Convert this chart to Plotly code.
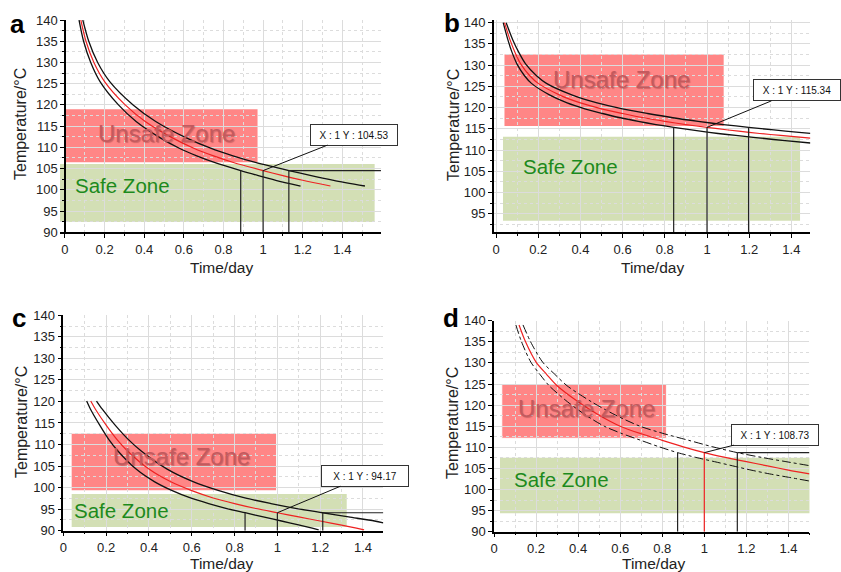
import plotly.graph_objects as go

FONT = "Liberation Sans, Arial, sans-serif"

# ---------------- data ----------------
# Panel a
a_t_mid = [0.08, 0.106, 0.146, 0.2, 0.304, 0.405, 0.54, 0.65, 0.75, 0.85, 1.0, 1.1, 1.2, 1.34]
a_T_mid = [140, 135, 130, 125.5, 120, 116.1, 112.3, 109.8, 108.0, 106.45, 104.53, 103.35, 102.25, 100.9]
a_t_lo = [0.071, 0.094, 0.13, 0.177, 0.27, 0.359, 0.479, 0.577, 0.665, 0.754, 0.887, 0.976, 1.064, 1.189]
a_T_lo = [140, 135, 130, 125.5, 120, 116.1, 112.3, 109.8, 108.0, 106.45, 104.53, 103.35, 102.25, 100.9]
a_t_hi = [0.09, 0.12, 0.165, 0.226, 0.344, 0.458, 0.61, 0.735, 0.848, 0.961, 1.13, 1.243, 1.356, 1.514]
a_T_hi = [140, 135, 130, 125.5, 120, 116.1, 112.3, 109.8, 108.0, 106.45, 104.53, 103.35, 102.25, 100.9]
a_cross_x = [0.887, 1.0, 1.13]
a_cross_y = 104.53
a_unsafe = [0.0, 0.972, 106.5, 119.0]
a_safe = [-0.025, 1.563, 92.4, 106.1]

# Panel b
b_t_mid = [0.04, 0.066, 0.09, 0.117, 0.16, 0.2, 0.3, 0.4, 0.5, 0.6, 0.7, 0.8, 0.9, 1.0, 1.1, 1.2, 1.3, 1.4, 1.49]
b_T_mid = [140, 136, 133, 130.3, 127.5, 125.7, 123.0, 121.1, 119.7, 118.6, 117.6, 116.75, 116.0, 115.34, 114.72, 114.15, 113.65, 113.2, 112.8]
b_t_lo = [0.034, 0.056, 0.076, 0.099, 0.135, 0.168, 0.253, 0.337, 0.421, 0.505, 0.589, 0.674, 0.758, 0.842, 0.926, 1.010, 1.095, 1.179, 1.255, 1.37, 1.49]
b_T_lo = [140, 136, 133, 130.3, 127.5, 125.7, 123.0, 121.1, 119.7, 118.6, 117.6, 116.75, 116.0, 115.34, 114.72, 114.15, 113.65, 113.2, 112.8, 112.2, 111.65]
b_t_hi = [0.048, 0.079, 0.108, 0.14, 0.192, 0.239, 0.359, 0.479, 0.599, 0.718, 0.838, 0.958, 1.077, 1.197, 1.317, 1.436, 1.49]
b_T_hi = [140, 136, 133, 130.3, 127.5, 125.7, 123.0, 121.1, 119.7, 118.6, 117.6, 116.75, 116.0, 115.34, 114.72, 114.15, 113.93]
b_cross_x = [0.842, 1.0, 1.197]
b_cross_y = 115.34
b_unsafe = [0.04, 1.079, 115.65, 132.5]
b_safe = [0.033, 1.441, 93.35, 113.1]

# Panel c
c_t_mid = [0.128, 0.15, 0.2, 0.25, 0.3, 0.4, 0.5, 0.6, 0.7, 0.8, 0.9, 1.0, 1.1, 1.2, 1.3, 1.405]
c_T_mid = [120.1, 118.2, 114.5, 111.2, 108.5, 104.3, 101.4, 99.3, 97.6, 96.3, 95.15, 94.17, 93.2, 92.25, 91.3, 90.2]
c_t_lo = [0.109, 0.127, 0.170, 0.212, 0.255, 0.340, 0.425, 0.509, 0.594, 0.679, 0.764, 0.849, 0.934, 1.019, 1.104, 1.193]
c_T_lo = [120.1, 118.2, 114.5, 111.2, 108.5, 104.3, 101.4, 99.3, 97.6, 96.3, 95.15, 94.17, 93.2, 92.25, 91.3, 90.2]
c_t_hi = [0.155, 0.182, 0.242, 0.303, 0.364, 0.485, 0.606, 0.727, 0.848, 0.970, 1.091, 1.212, 1.333, 1.454, 1.495]
c_T_hi = [120.1, 118.2, 114.5, 111.2, 108.5, 104.3, 101.4, 99.3, 97.6, 96.3, 95.15, 94.17, 93.2, 92.25, 91.8]
c_cross_x = [0.849, 1.0, 1.212]
c_cross_y = 94.17
c_unsafe = [0.039, 0.994, 99.4, 112.5]
c_safe = [0.039, 1.324, 90.85, 98.5]

# Panel d
d_t_mid = [0.119, 0.15, 0.2, 0.25, 0.3, 0.4, 0.5, 0.6, 0.7, 0.8, 0.9, 1.0, 1.1, 1.2, 1.3, 1.4, 1.5]
d_T_mid = [139, 135, 130.2, 127.3, 124.6, 120.8, 117.6, 115.0, 113.2, 111.65, 110.1, 108.73, 107.6, 106.6, 105.6, 104.6, 103.7]
d_t_lo = [0.104, 0.131, 0.175, 0.218, 0.262, 0.349, 0.437, 0.524, 0.611, 0.698, 0.786, 0.873, 0.960, 1.048, 1.135, 1.222, 1.31, 1.4, 1.5]
d_T_lo = [139, 135, 130.2, 127.3, 124.6, 120.8, 117.6, 115.0, 113.2, 111.65, 110.1, 108.73, 107.6, 106.6, 105.6, 104.6, 103.7, 102.9, 102.0]
d_t_hi = [0.138, 0.174, 0.231, 0.289, 0.347, 0.463, 0.579, 0.694, 0.810, 0.926, 1.041, 1.157, 1.273, 1.388, 1.5]
d_T_hi = [139, 135, 130.2, 127.3, 124.6, 120.8, 117.6, 115.0, 113.2, 111.65, 110.1, 108.73, 107.6, 106.6, 105.65]
d_cross_x = [0.873, 1.0, 1.157]
d_cross_y = 108.73
d_unsafe = [0.036, 0.821, 112.1, 125.0]
d_safe = [0.0285, 1.526, 94.35, 107.5]

labels = ["a", "b", "c", "d"]
unsafe_text = "Unsafe Zone"
safe_text = "Safe Zone"

# ---------------- layout helpers ----------------
panels = [
    dict(lab="a", xa="x", ya="y", t=(a_t_lo, a_T_lo, a_t_mid, a_T_mid, a_t_hi, a_T_hi),
         cx=a_cross_x, cy=a_cross_y, unsafe=a_unsafe, safe=a_safe, xr=[-0.027, 1.595], yr=[90, 140],
         xdom=[0.0709, 0.4530], ydom=[0.5939, 0.9650], ypos=0.0773, hline=True, dash="solid", midred=False,
         utxt=(0.51, 113.2), stxt=(0.29, 101.1), ax=91, ay=-36, uborder=0),
    dict(lab="b", xa="x2", ya="y2", t=(b_t_lo, b_T_lo, b_t_mid, b_T_mid, b_t_hi, b_T_hi),
         cx=b_cross_x, cy=b_cross_y, unsafe=b_unsafe, safe=b_safe, xr=[-0.01, 1.49], yr=[90.6, 140.6],
         xdom=[0.5873, 0.9636], ydom=[0.5938, 0.9648], ypos=None, hline=False, dash="solid", midred=False,
         utxt=(0.596, 126.6), stxt=(0.351, 106.1), ax=90, ay=-37, uborder=0),
    dict(lab="c", xa="x3", ya="y3", t=(c_t_lo, c_T_lo, c_t_mid, c_T_mid, c_t_hi, c_T_hi),
         cx=c_cross_x, cy=c_cross_y, unsafe=c_unsafe, safe=c_safe, xr=[0, 1.495], yr=[90, 140],
         xdom=[0.0753, 0.4558], ydom=[0.0722, 0.4488], ypos=None, hline=True, dash="solid", midred=False,
         utxt=(0.553, 107.2), stxt=(0.273, 94.6), ax=88, ay=-37, uborder=0),
    dict(lab="d", xa="x4", ya="y4", t=(d_t_lo, d_T_lo, d_t_mid, d_T_mid, d_t_hi, d_T_hi),
         cx=d_cross_x, cy=d_cross_y, unsafe=d_unsafe, safe=d_safe, xr=[0, 1.5], yr=[90, 140],
         xdom=[0.5874, 0.9625], ydom=[0.0705, 0.4393], ypos=None, hline=True, dash="dashdot", midred=True,
         utxt=(0.44, 119.2), stxt=(0.319, 102.4), ax=71, ay=-18, uborder=1.5),
]

fig = go.Figure()
shapes = []
annotations = []
layout_axes = {}

for i, p in enumerate(panels):
    xa, ya = p["xa"], p["ya"]
    t_lo, T_lo, t_mid, T_mid, t_hi, T_hi = p["t"]
    blk = dict(color="#111111", width=1.3 if p["dash"] == "solid" else 1.0, dash=p["dash"],
               shape="spline", smoothing=0.8)
    fig.add_trace(go.Scatter(x=t_lo, y=T_lo, mode="lines", line=blk, xaxis=xa, yaxis=ya, showlegend=False))
    fig.add_trace(go.Scatter(x=t_hi, y=T_hi, mode="lines", line=blk, xaxis=xa, yaxis=ya, showlegend=False))
    fig.add_trace(go.Scatter(x=t_mid, y=T_mid, mode="lines",
                             line=dict(color="#ee2222", width=1.2, shape="spline", smoothing=0.8),
                             xaxis=xa, yaxis=ya, showlegend=False))
    ybot = p["yr"][0]
    for k, xv in enumerate(p["cx"]):
        col = "#ee2222" if (p["midred"] and k == 1) else "#222222"
        fig.add_trace(go.Scatter(x=[xv, xv], y=[ybot, p["cy"]], mode="lines",
                                 line=dict(color=col, width=1.2), xaxis=xa, yaxis=ya, showlegend=False))
    if p["hline"]:
        fig.add_trace(go.Scatter(x=[p["cx"][2], p["xr"][1]], y=[p["cy"], p["cy"]], mode="lines",
                                 line=dict(color="#222222", width=1.2), xaxis=xa, yaxis=ya, showlegend=False))
    # zones
    u, s = p["unsafe"], p["safe"]
    shapes.append(dict(type="rect", xref=xa, yref=ya, x0=u[0], x1=u[1], y0=u[2], y1=u[3],
                       fillcolor="#ff8686",
                       line=dict(width=p["uborder"], color="rgba(255,255,255,0.85)"), layer="below"))
    shapes.append(dict(type="rect", xref=xa, yref=ya, x0=s[0], x1=s[1], y0=s[2], y1=s[3],
                       fillcolor="#d3dfb5", line=dict(width=0), layer="below"))
    annotations.append(dict(x=p["utxt"][0], y=p["utxt"][1], xref=xa, yref=ya, text=unsafe_text,
                            showarrow=False, font=dict(family=FONT, size=24, color="#c35a5e",
                                                        shadow="1px 1px 1px rgba(120,40,40,0.35)")))
    annotations.append(dict(x=p["stxt"][0], y=p["stxt"][1], xref=xa, yref=ya, text=safe_text,
                            showarrow=False, font=dict(family=FONT, size=20.5, color="#1d8a1d")))
    # value box
    annotations.append(dict(x=1.0, y=p["cy"], xref=xa, yref=ya,
                            text=f"X : 1 Y : {p['cy']:.2f}", showarrow=True, arrowhead=0,
                            arrowwidth=1, arrowcolor="#111111", ax=p["ax"], ay=p["ay"],
                            bgcolor="white", bordercolor="#333333", borderwidth=1, borderpad=1,
                            width=84, height=18, font=dict(family=FONT, size=10, color="#111111")))

    xkey = "xaxis" if i == 0 else f"xaxis{i+1}"
    ykey = "yaxis" if i == 0 else f"yaxis{i+1}"
    layout_axes[xkey] = dict(
        domain=p["xdom"], range=p["xr"], anchor=ya, tick0=0, dtick=0.2,
        showline=True, linecolor="black", linewidth=1.5, zeroline=False,
        ticks="outside", ticklen=4, tickcolor="black", tickwidth=1,
        showgrid=True, gridcolor="#dcdcdc", gridwidth=1.2,
        minor=dict(dtick=0.1, showgrid=True, gridcolor="#dcdcdc", griddash="dot", ticks="outside",
                   ticklen=2, tickcolor="black"),
        tickfont=dict(family=FONT, size=13, color="#222222"),
    )
    ydict = dict(
        domain=p["ydom"], range=p["yr"], tick0=0, dtick=5,
        showline=True, linecolor="black", linewidth=1.5, zeroline=False,
        ticks="outside", ticklen=4, tickcolor="black", tickwidth=1,
        showgrid=True, gridcolor="#dcdcdc", gridwidth=1.2,
        minor=dict(dtick=2.5, showgrid=True, gridcolor="#dcdcdc", griddash="dot", ticks="outside",
                   ticklen=2, tickcolor="black"),
        tickfont=dict(family=FONT, size=13, color="#222222"),
    )
    if p["ypos"] is not None:
        ydict.update(anchor="free", position=p["ypos"])
    else:
        ydict.update(anchor=xa)
    layout_axes[ykey] = ydict

# axis titles and panel letters (paper coordinates)
W, H = 841, 572
title_pos = [
    # (letter x,y) , (ytitle x,y), (xtitle x,y) in pixels
    ((17, 24), (21, 124), (222, 267)),
    ((452, 23), (453, 125), (652, 267)),
    ((19, 318), (21, 422), (222, 563)),
    ((451, 318), (452, 423), (653, 563)),
]
for lab, (lp, yp, xp) in zip(labels, title_pos):
    annotations.append(dict(x=lp[0] / W, y=1 - lp[1] / H, xref="paper", yref="paper", text=lab,
                            showarrow=False, xanchor="center", yanchor="middle",
                            font=dict(family=FONT, size=26, color="black", weight="bold")))
    annotations.append(dict(x=yp[0] / W, y=1 - yp[1] / H, xref="paper", yref="paper",
                            text="Temperature/°C", textangle=-90, showarrow=False,
                            xanchor="center", yanchor="middle",
                            font=dict(family=FONT, size=16, color="#222222")))
    annotations.append(dict(x=xp[0] / W, y=1 - xp[1] / H, xref="paper", yref="paper",
                            text="Time/day", showarrow=False, xanchor="center", yanchor="middle",
                            font=dict(family=FONT, size=15.5, color="#222222")))

fig.update_layout(
    width=W, height=H, margin=dict(l=0, r=0, t=0, b=0, autoexpand=False),
    paper_bgcolor="white", plot_bgcolor="white",
    shapes=shapes, annotations=annotations, showlegend=False,
    **layout_axes,
)

fig.write_html("out.html")
